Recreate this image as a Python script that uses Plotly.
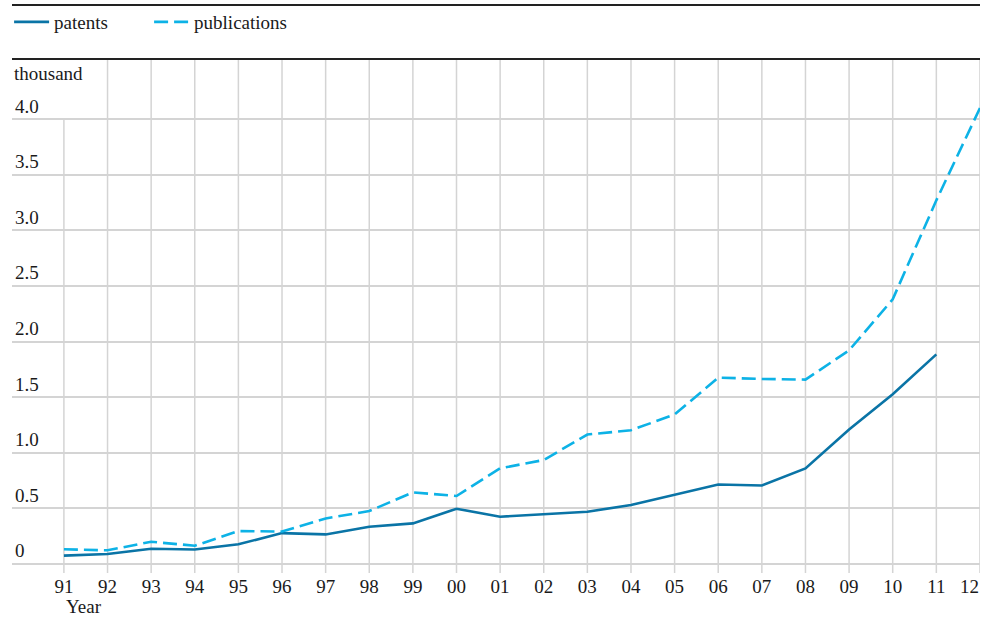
import plotly.graph_objects as go

years = list(range(1991, 2013))
tick_labels = ["91", "92", "93", "94", "95", "96", "97", "98", "99", "00",
               "01", "02", "03", "04", "05", "06", "07", "08", "09", "10", "11", "12"]
patents = [0.075, 0.09, 0.137, 0.13, 0.177, 0.278, 0.266, 0.335, 0.365, 0.497,
           0.425, 0.448, 0.47, 0.53, 0.626, 0.715, 0.706, 0.859, 1.209, 1.526, 1.885, None]
publications = [0.132, 0.123, 0.2, 0.164, 0.296, 0.292, 0.41, 0.476, 0.644, 0.611,
                0.86, 0.935, 1.164, 1.203, 1.344, 1.676, 1.664, 1.658, 1.921, 2.38, 3.27, 4.10]
y_ticks = [0, 0.5, 1.0, 1.5, 2.0, 2.5, 3.0, 3.5, 4.0]
y_tick_text = ["0", "0.5", "1.0", "1.5", "2.0", "2.5", "3.0", "3.5", "4.0"]

FONT = "Liberation Serif"
GRID = "#d4d4d4"
C_PAT = "#0a74a6"
C_PUB = "#0db2e6"
TXT = "#1a1a1a"

fig = go.Figure()
fig.add_trace(go.Scatter(x=years, y=patents, name="patents", mode="lines",
                         line=dict(color=C_PAT, width=2.6)))
fig.add_trace(go.Scatter(x=years, y=publications, name="publications", mode="lines",
                         line=dict(color=C_PUB, width=2.6, dash="14px,6px")))

# vertical grid lines (first one stops at the top gridline to leave room for labels)
shapes = []
for i, yr in enumerate(years):
    if i == 0:
        shapes.append(dict(type="line", xref="x", yref="y", x0=yr, x1=yr,
                           y0=-0.081, y1=y_ticks[-1], line=dict(color=GRID, width=1.5), layer="below"))
    else:
        shapes.append(dict(type="line", xref="x", yref="paper", x0=yr, x1=yr,
                           y0=0, y1=1, line=dict(color=GRID, width=1.5), layer="below"))
# black rules
shapes.append(dict(type="line", xref="paper", yref="paper", x0=0, x1=1, y0=1, y1=1,
                   line=dict(color="#222222", width=2)))
shapes.append(dict(type="line", xref="paper", yref="paper", x0=0, x1=1, y0=1.105, y1=1.105,
                   line=dict(color="#222222", width=2)))

# last tick label is right-aligned to the plot edge (drawn as annotation)
axis_ticktext = tick_labels[:-1] + [""]

fig.update_layout(
    width=985, height=620,
    margin=dict(l=12, r=5, t=59, b=47, autoexpand=False),
    paper_bgcolor="white", plot_bgcolor="white",
    font=dict(family=FONT, size=19, color=TXT),
    showlegend=True,
    legend=dict(orientation="h", x=-0.003, xanchor="left", y=1.072, yanchor="middle",
                font=dict(family=FONT, size=19, color=TXT),
                bgcolor="rgba(0,0,0,0)", itemwidth=35, entrywidth=90, entrywidthmode="pixels"),
    xaxis=dict(range=[1989.81, 2012.001], tickvals=years, ticktext=axis_ticktext,
               showgrid=False, zeroline=False, showline=False, ticks="",
               automargin=False,
               tickfont=dict(family=FONT, size=19, color=TXT)),
    yaxis=dict(range=[-0.081, 4.541], tickvals=y_ticks, ticktext=y_tick_text,
               showgrid=True, gridcolor=GRID, gridwidth=1.5, zeroline=False,
               showline=False, ticks="", ticklabelposition="inside top", automargin=False,
               tickfont=dict(family=FONT, size=19, color=TXT)),
    shapes=shapes,
    annotations=[
        dict(text="thousand", xref="paper", yref="paper", x=0, y=0.971,
             xanchor="left", yanchor="middle", showarrow=False,
             font=dict(family=FONT, size=19, color=TXT)),
        dict(text="Year", xref="x", yref="paper", x=years[0], y=-0.066,
             xanchor="left", yanchor="middle", showarrow=False,
             font=dict(family=FONT, size=19, color=TXT)),
        dict(text=tick_labels[-1], xref="x", yref="paper", x=years[-1], y=-0.026,
             xanchor="right", yanchor="middle", showarrow=False, xshift=1,
             font=dict(family=FONT, size=19, color=TXT)),
    ],
)

fig.write_html("out.html", config={"displayModeBar": False},
               post_script="document.body.style.margin='0';document.body.style.padding='0';")
